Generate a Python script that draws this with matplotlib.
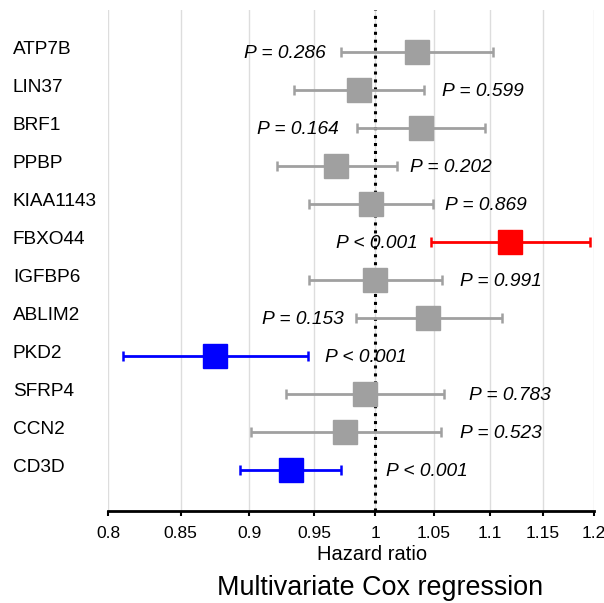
import matplotlib.pyplot as plt
import numpy as np

plt.rcParams['font.family'] = ['Liberation Sans', 'DejaVu Sans']

# Hazard ratios and 95% CI
genes = ['ATP7B', 'LIN37', 'BRF1', 'PPBP', 'KIAA1143', 'FBXO44',
         'IGFBP6', 'ABLIM2', 'PKD2', 'SFRP4', 'CCN2', 'CD3D']
hr = [1.035, 0.986, 1.039, 0.968, 0.996, 1.119,
      1.000, 1.045, 0.875, 0.991, 0.975, 0.932]
ci_low = [0.972, 0.934, 0.985, 0.921, 0.946, 1.047,
          0.946, 0.984, 0.810, 0.928, 0.901, 0.893]
ci_high = [1.103, 1.041, 1.096, 1.018, 1.049, 1.196,
           1.057, 1.111, 0.945, 1.059, 1.056, 0.972]
p_labels = ['P = 0.286', 'P = 0.599', 'P = 0.164', 'P = 0.202', 'P = 0.869', 'P < 0.001',
            'P = 0.991', 'P = 0.153', 'P < 0.001', 'P = 0.783', 'P = 0.523', 'P < 0.001']
row_color = ['#A0A0A0'] * 5 + ['#FF0000'] + ['#A0A0A0'] * 2 + ['#0000FF'] + ['#A0A0A0'] * 2 + ['#0000FF']

# where the P text sits (layout only): side of the CI and anchor x
p_side = ['left', 'right', 'left', 'right', 'right', 'left',
          'right', 'left', 'right', 'right', 'right', 'right']
p_x = [0.959, 1.057, 0.970, 1.029, 1.060, 1.036,
       1.073, 0.974, 0.959, 1.081, 1.073, 1.0085]

ticks = [0.8, 0.85, 0.9, 0.95, 1, 1.05, 1.1, 1.15, 1.2]
tick_labels = ['0.8', '0.85', '0.9', '0.95', '1', '1.05', '1.1', '1.15', '1.2']

fig = plt.figure(figsize=(6.04, 6.03), dpi=100)
ax = fig.add_axes([108 / 604, 1 - 510.7 / 603, 486 / 604, 500.7 / 603])

n = len(genes)
ypos = np.arange(n)[::-1]

ax.set_xscale('log')
ax.set_xlim(0.8, 1.2)
ax.set_ylim(-1.07, n - 1 + 1.11)

for i in range(n):
    c = row_color[i]
    ax.errorbar(hr[i], ypos[i], xerr=[[hr[i] - ci_low[i]], [ci_high[i] - hr[i]]],
                fmt='s', color=c, ecolor=c, markersize=16.8, elinewidth=2,
                capsize=3.8, capthick=1.8, zorder=3)
    ha = 'right' if p_side[i] == 'left' else 'left'
    ax.text(p_x[i], ypos[i] - 0.03, p_labels[i], ha=ha, va='center',
            fontsize=13.8, style='italic', zorder=4)
    ax.text(-0.1955, ypos[i] + 0.08, genes[i], transform=ax.get_yaxis_transform(),
            ha='left', va='center', fontsize=13.7)

ax.axvline(1, color='black', linestyle=(0, (1, 1.6)), linewidth=2.2, zorder=2)

ax.set_xticks(ticks)
ax.set_xticklabels(tick_labels, fontsize=12.5)
ax.xaxis.set_minor_locator(plt.NullLocator())
ax.tick_params(axis='x', length=3.8, width=1.5, pad=7)
ax.set_yticks([])
ax.grid(axis='x', color='#DDDDDD', linewidth=1)
ax.set_axisbelow(True)

for s in ['top', 'right', 'left']:
    ax.spines[s].set_visible(False)
ax.spines['bottom'].set_linewidth(2)

fig.text(372 / 604, 1 - 555 / 603, 'Hazard ratio', ha='center', va='center', fontsize=14.5)
fig.text(380 / 604, 1 - 588 / 603, 'Multivariate Cox regression', ha='center', va='center', fontsize=19.4)

fig.savefig('out.png', dpi=100)
